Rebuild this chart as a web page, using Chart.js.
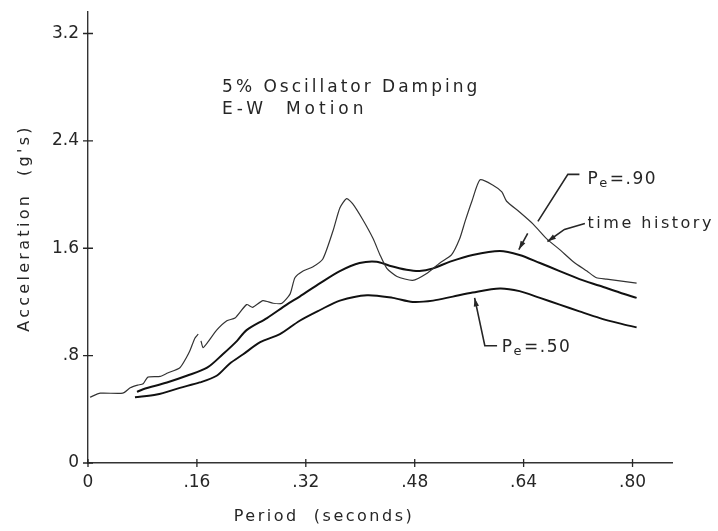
<!DOCTYPE html>
<html>
<head>
<meta charset="utf-8">
<script src="https://cdn.jsdelivr.net/npm/chart.js@4.4.1/dist/chart.umd.min.js"></script>
<style>
  body { margin: 0; background: #fff; }
</style>
</head>
<body>
<canvas id="chart" width="718" height="531"></canvas>
<script>
  // period (s) and acceleration (g's)
  thT = [0.003,0.018,0.051,0.062,0.073,0.081,0.088,0.106,0.117,0.135,0.145,0.150,0.157,0.162,0.164,0.166,0.169,0.176,0.189,0.204,0.216,0.233,0.242,0.257,0.272,0.285,0.297,0.304,0.316,0.330,0.345,0.360,0.370,0.380,0.389,0.404,0.419,0.429,0.439,0.454,0.477,0.497,0.517,0.534,0.546,0.554,0.564,0.576,0.595,0.608,0.615,0.634,0.654,0.674,0.693,0.713,0.733,0.747,0.762,0.806]
  thA = [0.49,0.52,0.52,0.56,0.58,0.59,0.64,0.645,0.67,0.71,0.79,0.84,0.93,0.96,null,0.91,0.86,0.90,0.99,1.06,1.08,1.18,1.16,1.21,1.19,1.19,1.26,1.38,1.43,1.46,1.52,1.73,1.90,1.97,1.93,1.81,1.67,1.55,1.45,1.39,1.36,1.41,1.49,1.55,1.67,1.80,1.95,2.11,2.07,2.02,1.95,1.87,1.78,1.67,1.59,1.50,1.43,1.38,1.37,1.34]

  p90T = [0.072,0.081,0.116,0.145,0.175,0.198,0.219,0.233,0.263,0.292,0.311,0.341,0.370,0.399,0.424,0.443,0.468,0.487,0.507,0.532,0.565,0.605,0.634,0.664,0.693,0.722,0.752,0.781,0.806]
  p90A = [0.53,0.55,0.60,0.65,0.71,0.81,0.91,0.99,1.08,1.18,1.24,1.34,1.43,1.49,1.50,1.47,1.44,1.43,1.45,1.50,1.55,1.58,1.55,1.49,1.43,1.37,1.32,1.27,1.23]

  p50T = [0.069,0.101,0.135,0.164,0.189,0.208,0.228,0.253,0.282,0.311,0.341,0.370,0.410,0.448,0.477,0.507,0.536,0.565,0.605,0.634,0.664,0.693,0.722,0.752,0.781,0.806]
  p50A = [0.49,0.51,0.56,0.60,0.65,0.74,0.81,0.90,0.96,1.06,1.14,1.21,1.25,1.23,1.20,1.21,1.24,1.27,1.30,1.28,1.23,1.18,1.13,1.08,1.04,1.01]

  xTicks = [0, 0.16, 0.32, 0.48, 0.64, 0.80]
  yTicks = [0, 0.8, 1.6, 2.4, 3.2]

  const FONT = '"DejaVu Sans", sans-serif'
  const INK = '#262626'

  function pts(t, a) {
    return t.map((v, k) => ({x: v, y: a[k]}))
  }

  function fmtX(v) {
    if (v === 0) return '0'
    return v.toFixed(2).replace(/^0/, '')
  }
  function fmtY(v) {
    if (v === 0) return '0'
    return v < 1 ? v.toFixed(1).replace(/^0/, '') : v.toFixed(1)
  }

  // labels, leaders and tick crosses, placed in data units
  const notes = {
    id: 'notes',
    afterDraw: (chart) => {
      const {ctx, chartArea, scales: {x, y}} = chart
      const px = t => x.getPixelForValue(t)
      const py = a => y.getPixelForValue(a)
      ctx.save()
      ctx.fillStyle = INK
      ctx.strokeStyle = INK
      ctx.textBaseline = 'middle'

      // tick crosses
      ctx.lineWidth = 1.3
      ctx.beginPath()
      yTicks.forEach(v => { ctx.moveTo(px(0) - 5, py(v)); ctx.lineTo(px(0) + 5, py(v)) })
      xTicks.forEach(v => { ctx.moveTo(px(v), py(0) - 4); ctx.lineTo(px(v), py(0) + 4) })
      ctx.stroke()

      function text(s, t, a, size, spacing) {
        ctx.font = size + 'px ' + FONT
        ctx.letterSpacing = spacing + 'px'
        ctx.textAlign = 'left'
        ctx.fillText(s, px(t), py(a))
      }
      function pe(rest, t, a) {
        ctx.letterSpacing = '1.5px'
        ctx.textAlign = 'left'
        ctx.font = '17px ' + FONT
        let X = px(t), Y = py(a)
        ctx.fillText('P', X, Y)
        X += ctx.measureText('P').width
        ctx.font = '13px ' + FONT
        ctx.fillText('e', X, Y + 4)
        X += ctx.measureText('e').width + 1
        ctx.font = '17px ' + FONT
        ctx.fillText(rest, X, Y)
      }
      function leader(tt, aa, arrow) {
        ctx.lineWidth = 1.6
        ctx.beginPath()
        tt.forEach((t, k) => k ? ctx.lineTo(px(t), py(aa[k])) : ctx.moveTo(px(t), py(aa[k])))
        ctx.stroke()
        if (arrow) {
          const n = tt.length
          const x1 = px(tt[n - 1]), y1 = py(aa[n - 1])
          const x0 = px(tt[n - 2]), y0 = py(aa[n - 2])
          const ang = Math.atan2(y1 - y0, x1 - x0)
          ctx.beginPath()
          ctx.moveTo(x1, y1)
          ctx.lineTo(x1 - 9 * Math.cos(ang - 0.3), y1 - 9 * Math.sin(ang - 0.3))
          ctx.lineTo(x1 - 9 * Math.cos(ang + 0.3), y1 - 9 * Math.sin(ang + 0.3))
          ctx.closePath()
          ctx.fill()
        }
      }

      text('5% Oscillator Damping', 0.197, 2.80, 17, 3)
      text('E-W  Motion', 0.197, 2.63, 17, 4)

      pe('=.90', 0.734, 2.11)
      leader([0.722, 0.705, 0.661], [2.15, 2.15, 1.80], false)
      leader([0.646, 0.633], [1.71, 1.59], true)

      text('time history', 0.734, 1.78, 16, 2.5)
      leader([0.730, 0.700, 0.675], [1.785, 1.74, 1.65], true)

      pe('=.50', 0.608, 0.86)
      leader([0.601, 0.583, 0.568], [0.874, 0.874, 1.23], true)

      // axis titles
      ctx.textAlign = 'center'
      ctx.font = '16px ' + FONT
      ctx.letterSpacing = '2.5px'
      ctx.fillText('Period  (seconds)', chartArea.left + 236, chartArea.bottom + 54)
      ctx.letterSpacing = '3.3px'
      ctx.translate(chartArea.left - 63, chartArea.top + 216)
      ctx.rotate(-Math.PI / 2)
      ctx.fillText('Acceleration  (g\'s)', 0, 0)
      ctx.restore()
    }
  }

  var chart = new Chart('chart', {
    type: 'scatter',
    data: {
      datasets: [
        {label: 'time history', data: pts(thT, thA), showLine: true, spanGaps: false,
         borderColor: '#333', borderWidth: 1.2, pointRadius: 0, tension: 0.2},
        {label: 'Pe=.90', data: pts(p90T, p90A), showLine: true,
         borderColor: '#111', borderWidth: 2, pointRadius: 0, tension: 0.3},
        {label: 'Pe=.50', data: pts(p50T, p50A), showLine: true,
         borderColor: '#111', borderWidth: 1.9, pointRadius: 0, tension: 0.3}
      ]
    },
    options: {
      responsive: false,
      animation: false,
      layout: {padding: {top: 12, right: 46, left: 0, bottom: 0}},
      plugins: {legend: {display: false}, tooltip: {enabled: false}},
      scales: {
        x: {
          type: 'linear', min: 0, max: 0.858,
          afterBuildTicks: s => { s.ticks = xTicks.map(v => ({value: v})) },
          afterFit: s => { s.height = 68; s.paddingLeft = 0; s.paddingRight = 0 },
          grid: {display: false, drawTicks: false},
          border: {color: '#333', width: 1.6},
          ticks: {callback: v => fmtX(v), font: {family: FONT, size: 17}, color: INK, padding: 9, maxRotation: 0}
        },
        y: {
          min: 0, max: 3.36,
          afterBuildTicks: s => { s.ticks = yTicks.map(v => ({value: v})) },
          afterFit: s => { s.width = 88; s.paddingTop = 0; s.paddingBottom = 0 },
          grid: {display: false, drawTicks: false},
          border: {color: '#333', width: 1.4, dash: [9, 2]},
          ticks: {callback: v => fmtY(v), font: {family: FONT, size: 17}, color: INK, padding: 9}
        }
      }
    },
    plugins: [notes]
  });
</script>
</body>
</html>
